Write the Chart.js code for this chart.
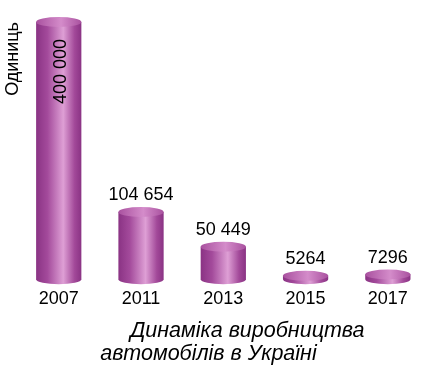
<!DOCTYPE html>
<html>
<head>
<meta charset="utf-8">
<script src="https://cdn.jsdelivr.net/npm/chart.js@4"></script>
<style>
  html, body { margin: 0; padding: 0; background: #fff; }
  #wrap { width: 435px; height: 375px; }
</style>
</head>
<body>
<div id="wrap"><canvas id="chart"></canvas></div>
<script>
const years = ['2007', '2011', '2013', '2015', '2017'];
const produced = [400000, 104654, 50449, 5264, 7296];
const valueLabels = ['400 000', '104 654', '50 449', '5264', '7296'];
const yTitle = 'Одиниць';
const titleLines = ['Динаміка виробництва', 'автомобілів в Україні'];

const FONT = "'Liberation Sans', Arial, sans-serif";

// draws each bar as a purple cylinder, using the bar element geometry
const cylinderPlugin = {
    id: 'cylinders',
    afterDatasetsDraw(chart) {
        const ctx = chart.ctx;
        const meta = chart.getDatasetMeta(0);
        meta.data.forEach((bar, i) => {
            const p = bar.getProps(['x', 'y', 'base', 'width'], true);
            const left = p.x - p.width / 2;
            const right = p.x + p.width / 2;
            const rx = p.width / 2;
            const ry = 5;

            const body = ctx.createLinearGradient(left, 0, right, 0);
            body.addColorStop(0, '#8a3384');
            body.addColorStop(0.25, '#a34a9b');
            body.addColorStop(0.6, '#de9fd5');
            body.addColorStop(0.85, '#a24999');
            body.addColorStop(1, '#8a3384');

            ctx.save();
            ctx.fillStyle = body;
            ctx.beginPath();
            ctx.moveTo(left, p.y);
            ctx.lineTo(left, p.base);
            ctx.ellipse(p.x, p.base, rx, ry, 0, Math.PI, 0, true);
            ctx.lineTo(right, p.y);
            ctx.closePath();
            ctx.fill();

            const top = ctx.createLinearGradient(left, 0, right, 0);
            top.addColorStop(0, '#a9519f');
            top.addColorStop(0.55, '#d48cca');
            top.addColorStop(1, '#a9519f');
            ctx.fillStyle = top;
            ctx.beginPath();
            ctx.ellipse(p.x, p.y, rx, ry, 0, 0, Math.PI * 2);
            ctx.fill();

            // value labels
            ctx.fillStyle = '#000';
            ctx.font = '18px ' + FONT;
            if (i === 0) {
                ctx.translate(p.x + 2, p.y + 17);
                ctx.rotate(-Math.PI / 2);
                ctx.textAlign = 'right';
                ctx.textBaseline = 'middle';
                ctx.fillText(valueLabels[i], 0, 0);
            } else {
                ctx.textAlign = 'center';
                ctx.textBaseline = 'middle';
                ctx.fillText(valueLabels[i], p.x, p.y - 17);
            }
            ctx.restore();
        });
    }
};

new Chart(document.getElementById('chart'), {
    type: 'bar',
    data: {
        labels: years,
        datasets: [{
            data: produced,
            backgroundColor: 'rgba(0,0,0,0)',
            borderWidth: 0,
            categoryPercentage: 1,
            barPercentage: 0.55
        }]
    },
    options: {
        responsive: true,
        maintainAspectRatio: false,
        animation: false,
        layout: { padding: { top: 22, right: 6, left: 0, bottom: 0 } },
        plugins: {
            legend: { display: false },
            tooltip: { enabled: false },
            title: {
                display: true,
                position: 'bottom',
                text: ['           ' + titleLines[0], titleLines[1] + '  '],
                color: '#000',
                font: { family: FONT, size: 21.5, style: 'italic', weight: 'normal', lineHeight: 1.05 },
                padding: { top: 1, bottom: 10 }
            }
        },
        scales: {
            x: {
                grid: { display: false, drawTicks: false },
                border: { display: false },
                ticks: { color: '#000', padding: 9, font: { family: FONT, size: 18 } }
            },
            y: {
                min: 0,
                max: 400000,
                grid: { display: false, drawTicks: false },
                border: { display: false },
                ticks: { display: false },
                title: {
                    display: true,
                    text: yTitle,
                    align: 'end',
                    color: '#000',
                    padding: { top: 2, bottom: -6 },
                    font: { family: FONT, size: 18 }
                }
            }
        }
    },
    plugins: [cylinderPlugin]
});
</script>
</body>
</html>
